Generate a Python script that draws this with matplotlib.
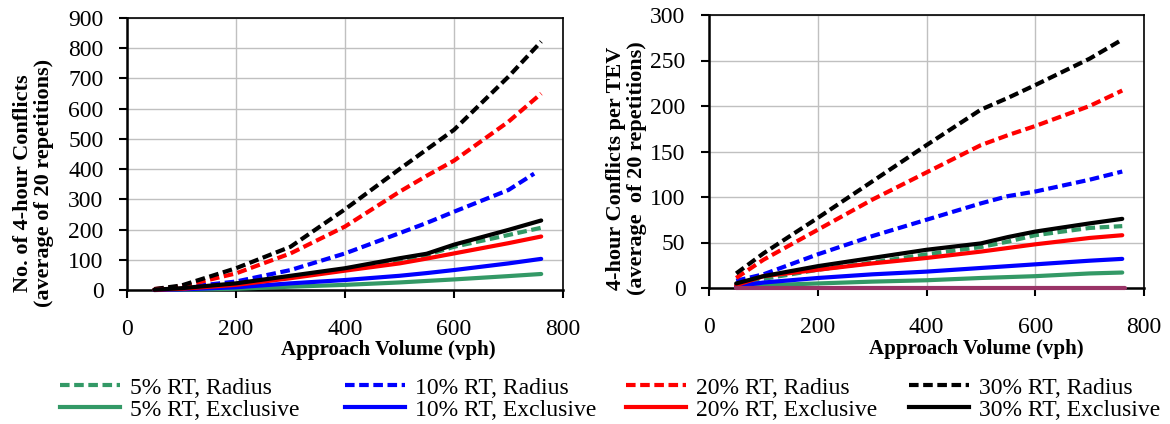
import matplotlib
matplotlib.use("Agg")
import matplotlib.pyplot as plt
from matplotlib.lines import Line2D

plt.rcParams['font.family'] = ['Liberation Serif', 'DejaVu Serif']

# approach volume (vph) at which the simulations were run
volume = [50, 100, 200, 300, 400, 500, 550, 600, 700, 760]
volume_blue_r = [50, 100, 200, 300, 400, 500, 550, 600, 700, 747]

# 4-hour conflicts (average of 20 repetitions)
conf_5_radius = [1, 4, 18, 42, 68, 100, 116, 143, 182, 206]
conf_10_radius = [2, 8, 28, 66, 121, 188, 222, 259, 331, 385]
conf_20_radius = [3, 12, 55, 121, 210, 325, 378, 428, 557, 650]
conf_30_radius = [3, 15, 72, 143, 267, 400, 465, 530, 706, 822]
conf_5_excl = [0, 1, 4, 11, 17, 25, 30, 35, 46, 53]
conf_10_excl = [0, 2, 9, 22, 33, 47, 56, 66, 88, 103]
conf_20_excl = [1, 4, 17, 39, 64, 88, 104, 121, 155, 177]
conf_30_excl = [1, 6, 22, 47, 72, 105, 120, 150, 199, 230]

# 4-hour conflicts per TEV
tev_5_radius = [3, 10, 20, 28, 37, 45, 51, 58, 66, 68]
tev_10_radius = [8, 15, 37, 57, 75, 93, 101, 106, 119, 128]
tev_20_radius = [11, 31, 64, 97, 127, 157, 168, 178, 200, 217]
tev_30_radius = [16, 38, 77, 117, 157, 196, 209, 223, 252, 273]
tev_5_excl = [1, 3, 5, 7, 8.5, 11, 12, 13, 16, 17]
tev_10_excl = [2, 6, 11, 15, 18, 22, 24, 26, 30, 32]
tev_20_excl = [3, 13, 20, 27, 33, 40, 44, 48, 55, 58]
tev_30_excl = [5, 13, 24, 33, 42, 49, 56, 62, 71, 76]
tev_other_x = [50, 765]
tev_other = [0, 0]

labels_radius = ['5% RT, Radius', '10% RT, Radius', '20% RT, Radius', '30% RT, Radius']
labels_excl = ['5% RT, Exclusive', '10% RT, Exclusive', '20% RT, Exclusive', '30% RT, Exclusive']
colors = ['#339966', '#0000FF', '#FF0000', '#000000']
purple = '#993366'

LW = 3.0
DASH = (2.3, 1.1)
TICK_FS = 17
LABEL_FS = 16

fig = plt.figure(figsize=(11.7, 4.24), dpi=100)
ax1 = fig.add_axes([127 / 1170, 1 - 290 / 424, 436 / 1170, 272 / 424])
ax2 = fig.add_axes([709 / 1170, 1 - 288 / 424, 435 / 1170, 273 / 424])


def style_axes(ax, ymax, ystep):
    ax.set_xlim(0, 800)
    ax.set_ylim(0, ymax)
    ax.set_xticks(range(0, 801, 200))
    ax.set_yticks(range(0, ymax + 1, ystep))
    ax.set_axisbelow(True)
    ax.grid(True, color='#c0c0c0', linewidth=1.0)
    for side in ['left', 'bottom']:
        ax.spines[side].set_linewidth(1.8)
    for side in ['top', 'right']:
        ax.spines[side].set_linewidth(1.2)
    ax.tick_params(axis='x', direction='out', length=6, width=1.5, pad=15, labelsize=TICK_FS)
    ax.tick_params(axis='y', direction='out', length=6, width=1.5, pad=11, labelsize=TICK_FS)


# left panel: number of conflicts
radius_left = [conf_5_radius, conf_10_radius, conf_20_radius, conf_30_radius]
excl_left = [conf_5_excl, conf_10_excl, conf_20_excl, conf_30_excl]
for i, (vals, c) in enumerate(zip(radius_left, colors)):
    xs = volume_blue_r if i == 1 else volume
    ax1.plot(xs, vals, color=c, lw=LW, dashes=DASH, clip_on=False, zorder=3)
for vals, c in zip(excl_left, colors):
    ax1.plot(volume, vals, color=c, lw=LW, solid_capstyle='round', clip_on=False, zorder=3)
style_axes(ax1, 900, 100)
ax1.text(-0.215, 0.393, 'No. of 4-hour Conflicts\n(average of 20 repetitions)',
         transform=ax1.transAxes, rotation=90, ha='center', va='center',
         multialignment='center', fontsize=LABEL_FS, fontweight='bold', linespacing=1.05)
ax1.text(0.6, -0.22, 'Approach Volume (vph)', transform=ax1.transAxes,
         ha='center', va='center', fontsize=15, fontweight='bold')

# right panel: conflicts per TEV
radius_right = [tev_5_radius, tev_10_radius, tev_20_radius, tev_30_radius]
excl_right = [tev_5_excl, tev_10_excl, tev_20_excl, tev_30_excl]
for vals, c in zip(radius_right, colors):
    ax2.plot(volume, vals, color=c, lw=LW, dashes=DASH, clip_on=False, zorder=3)
for vals, c in zip(excl_right, colors):
    ax2.plot(volume, vals, color=c, lw=LW, solid_capstyle='round', clip_on=False, zorder=3)
ax2.plot(tev_other_x, tev_other, color=purple, lw=LW, solid_capstyle='round',
         clip_on=False, zorder=3)
style_axes(ax2, 300, 50)
ax2.text(-0.19, 0.44, '4-hour Conflicts per TEV\n(average  of 20 repetitions)',
         transform=ax2.transAxes, rotation=90, ha='center', va='center',
         multialignment='center', fontsize=LABEL_FS, fontweight='bold', linespacing=1.05)
ax2.text(0.615, -0.225, 'Approach Volume (vph)', transform=ax2.transAxes,
         ha='center', va='center', fontsize=15, fontweight='bold')

# shared legend, one column per RT share
col_x = [60, 345, 626, 909]
for x0, c, lr, le in zip(col_x, colors, labels_radius, labels_excl):
    handles = [Line2D([], [], color=c, lw=LW, dashes=DASH),
               Line2D([], [], color=c, lw=LW)]
    fig.legend(handles, [lr, le], loc='center left',
               bbox_to_anchor=(x0 / 1170, 1 - 399 / 424), frameon=False,
               fontsize=17, handlelength=2.55, handletextpad=0.42,
               borderpad=0, borderaxespad=0, labelspacing=0.02)

fig.savefig('out.png', dpi=100)
